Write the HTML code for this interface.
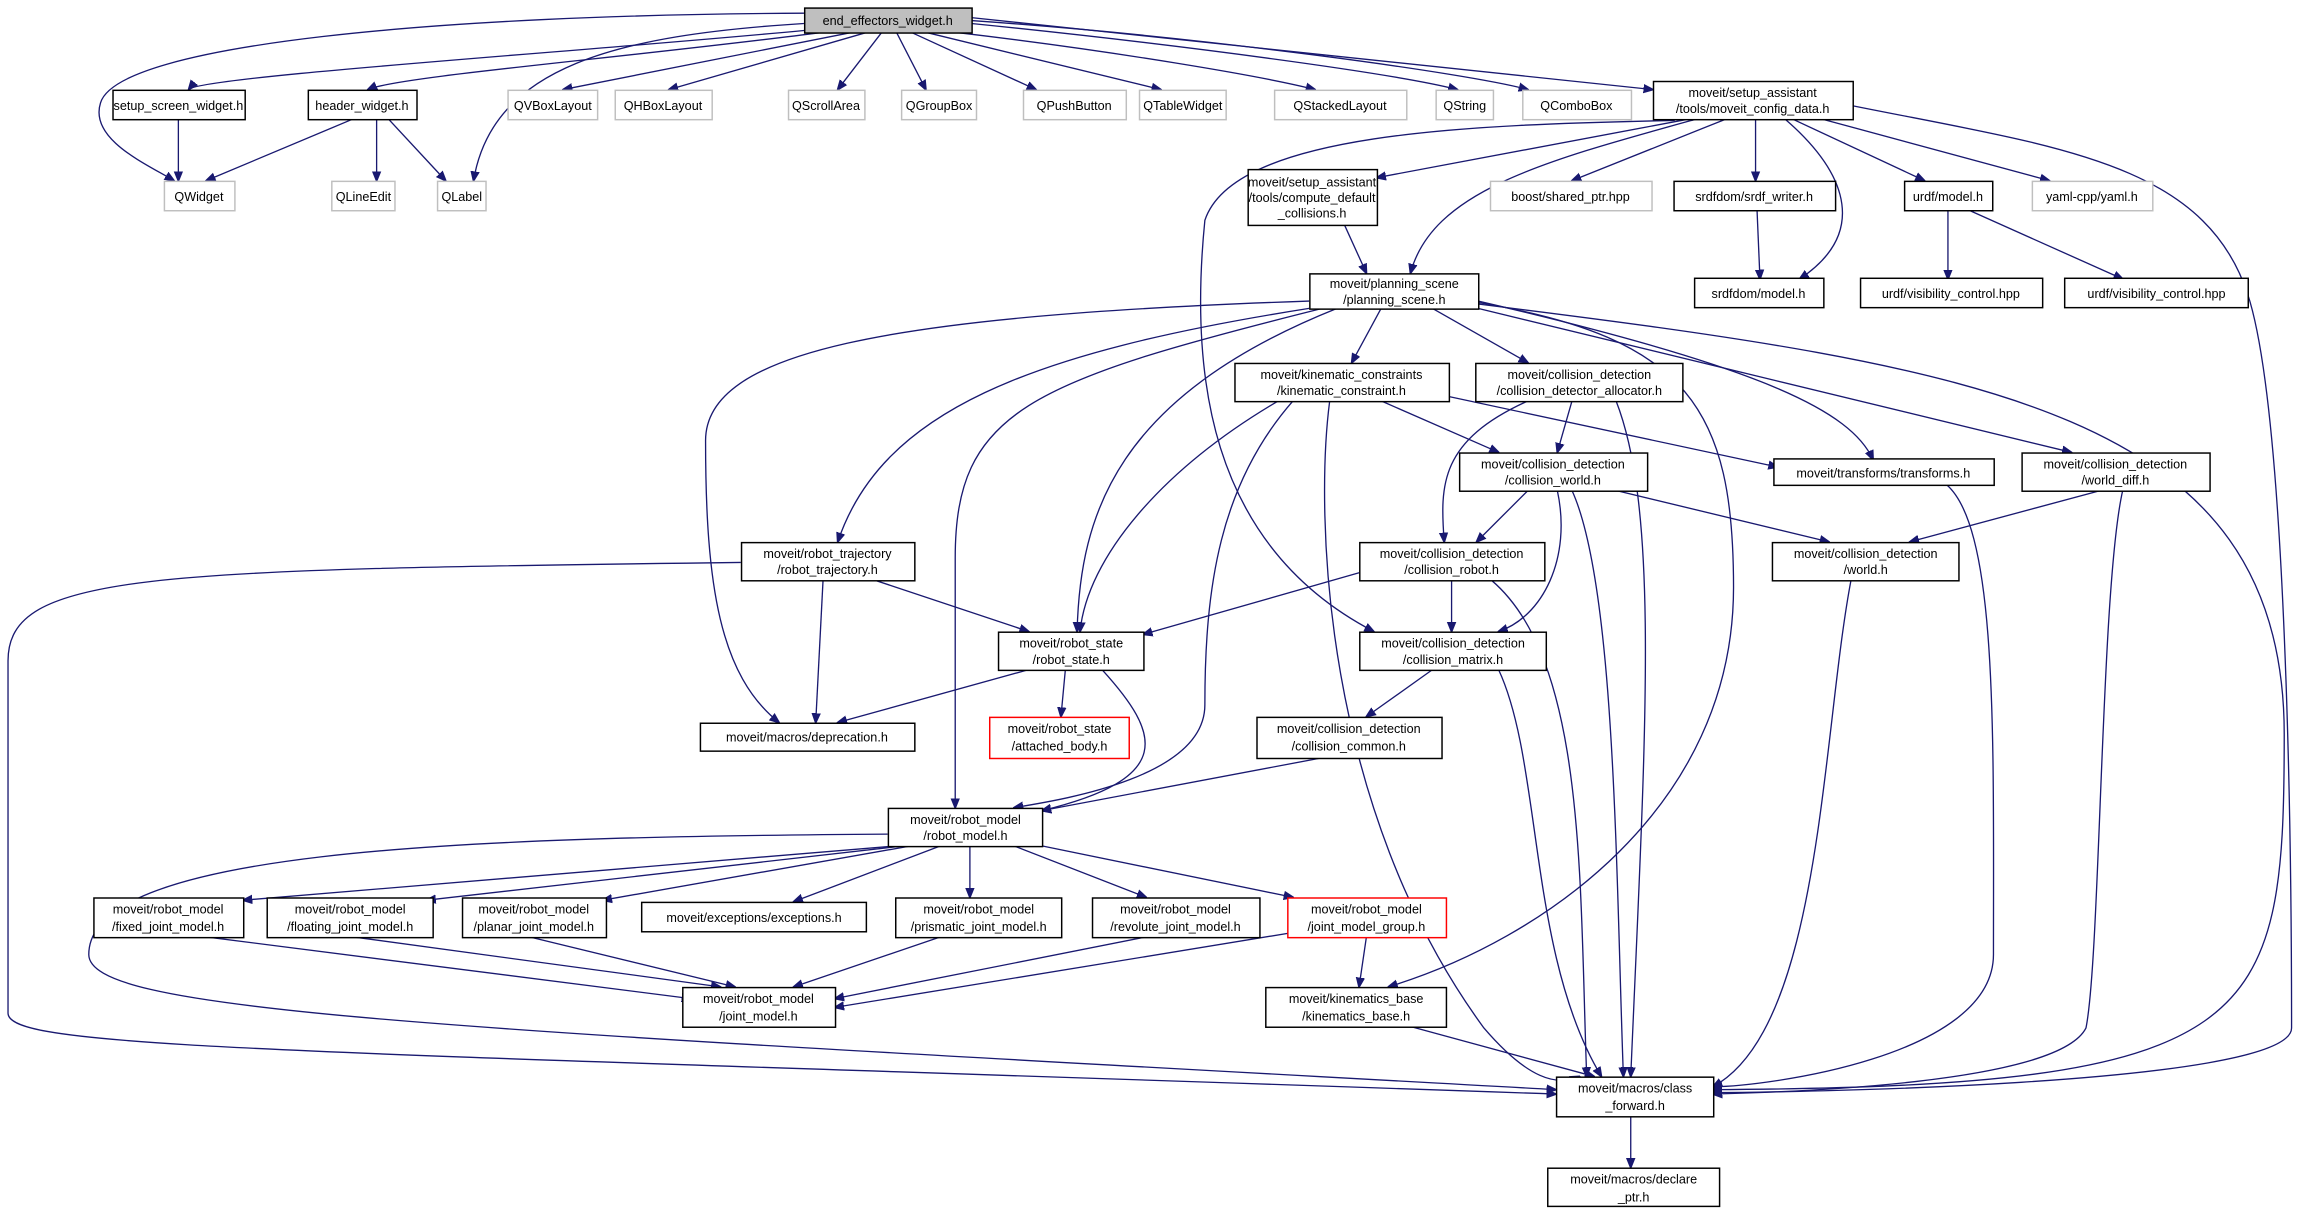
<!DOCTYPE html>
<html><head><meta charset="utf-8"><style>
html,body{margin:0;padding:0;background:#fff;}
svg{display:block}
text{font-family:"Liberation Sans",sans-serif;font-size:8.6px;fill:#000;text-anchor:middle}
.n{fill:#fff;stroke:#000;stroke-width:1}
.g{fill:#fff;stroke:#bfbfbf;stroke-width:1}
.r{fill:#fff;stroke:#ff0000;stroke-width:1}
.e path{fill:none;stroke:#191970;stroke-width:0.9;marker-end:url(#a)}
</style></head><body>
<svg width="2304" height="1213" viewBox="0 0 1568 826" xmlns="http://www.w3.org/2000/svg">
<defs><marker id="a" viewBox="0 0 10 10" refX="9" refY="5" markerWidth="7" markerHeight="7" markerUnits="userSpaceOnUse" orient="auto"><path d="M0,1 L10,5 L0,9 z" fill="#191970" stroke="#191970"/></marker></defs>
<g class="e">
<path d="M547,9 C300,10 80,30 68,70 C60,95 100,112 118,123"/>
<path d="M555,20 C400,35 135,52 128,61"/>
<path d="M560,22 C420,40 270,52 250,61"/>
<path d="M547,16 C420,24 335,45 322,123"/>
<path d="M580,22 L383,61"/>
<path d="M590,22 L455,61"/>
<path d="M600,22 L570,61"/>
<path d="M610,22 L630,61"/>
<path d="M620,22 L705,61"/>
<path d="M630,22 L790,61"/>
<path d="M650,22 C760,35 860,52 895,61"/>
<path d="M661,16 C800,30 950,50 992,61"/>
<path d="M661,14 C820,25 1000,50 1040,61"/>
<path d="M661,12 L1125,61"/>
<path d="M121,81 L121,123"/>
<path d="M240,81 L140,123"/>
<path d="M256,81 L256,123"/>
<path d="M264,81 L303,123"/>
<path d="M1150,81 L937,121"/>
<path d="M1155,81 C1050,110 975,130 960,186"/>
<path d="M1140,82 C1000,85 840,90 820,150 C810,250 820,370 935,430"/>
<path d="M1175,81 L1070,123"/>
<path d="M1195,81 L1195,123"/>
<path d="M1215,81 C1260,120 1270,160 1225,190"/>
<path d="M1220,81 L1310,123"/>
<path d="M1240,81 L1395,123"/>
<path d="M1261,72 C1400,100 1500,110 1530,200 C1560,290 1560,650 1560,700 C1560,740 1200,744 1166,744"/>
<path d="M915,153 L930,186"/>
<path d="M1196,143 L1198,190"/>
<path d="M1326,143 L1326,190"/>
<path d="M1340,143 L1445,190"/>
<path d="M891,205 C600,215 480,240 480,300 C480,400 490,460 530,492"/>
<path d="M891,210 C700,240 600,280 570,369"/>
<path d="M900,210 C700,260 650,280 650,380 L650,550"/>
<path d="M910,210 C760,270 735,350 733,430"/>
<path d="M940,210 L920,247"/>
<path d="M975,210 L1040,247"/>
<path d="M1006,205 C1200,250 1260,280 1275,313"/>
<path d="M1006,210 L1410,308"/>
<path d="M1006,206 C1150,230 1180,280 1180,400 C1180,550 1050,640 945,672"/>
<path d="M1006,207 C1350,250 1555,280 1555,500 C1555,700 1540,740 1166,742"/>
<path d="M870,273 C790,320 740,380 735,430"/>
<path d="M880,273 C830,330 820,400 820,480 C820,530 720,545 690,550"/>
<path d="M940,273 L1020,308"/>
<path d="M986,270 L1210,318"/>
<path d="M905,273 C895,350 900,550 1010,700 C1040,735 1060,740 1075,733"/>
<path d="M1070,273 L1060,308"/>
<path d="M1040,273 C980,300 980,330 983,369"/>
<path d="M1100,273 C1130,350 1120,500 1110,733"/>
<path d="M1040,334 L1005,369"/>
<path d="M1060,334 C1070,380 1050,420 1020,430"/>
<path d="M1100,334 L1245,369"/>
<path d="M1070,334 C1100,400 1100,600 1105,733"/>
<path d="M1325,330 C1360,360 1357,500 1357,650 C1357,720 1200,740 1166,740"/>
<path d="M1430,334 L1300,369"/>
<path d="M1445,334 C1430,400 1430,650 1420,700 C1400,740 1200,744 1166,745"/>
<path d="M595,395 L700,430"/>
<path d="M560,395 L555,492"/>
<path d="M504,383 C100,388 5,390 5,450 L5,690 C5,715 200,715 1059,745"/>
<path d="M925,390 L778,432"/>
<path d="M988,395 L988,430"/>
<path d="M1015,395 C1080,450 1075,600 1080,733"/>
<path d="M1260,395 C1240,500 1240,700 1166,740"/>
<path d="M975,456 L930,488"/>
<path d="M1020,456 C1050,520 1040,650 1090,733"/>
<path d="M700,456 L570,492"/>
<path d="M725,456 L722,488"/>
<path d="M750,456 C790,500 800,530 709,552"/>
<path d="M900,516 L709,552"/>
<path d="M610,576 L165,613"/>
<path d="M615,576 L290,613"/>
<path d="M620,576 L410,613"/>
<path d="M640,576 L540,614"/>
<path d="M660,576 L660,611"/>
<path d="M690,576 L780,611"/>
<path d="M709,576 L880,611"/>
<path d="M604,568 C300,570 60,580 60,650 C60,690 300,700 1059,742"/>
<path d="M140,638 L470,680"/>
<path d="M240,638 L490,672"/>
<path d="M360,638 L500,672"/>
<path d="M640,638 L540,672"/>
<path d="M780,638 L568,680"/>
<path d="M880,635 L568,686"/>
<path d="M930,638 L925,672"/>
<path d="M960,699 L1085,733"/>
<path d="M1110,760 L1110,795"/>
</g>
<g>
<rect x="547.5" y="5.5" width="114" height="17" fill="#bfbfbf" stroke="#000"/><text x="604" y="17">end_effectors_widget.h</text>
<rect class="n" x="76.5" y="61.5" width="90" height="20"/><text x="121" y="75">setup_screen_widget.h</text>
<rect class="n" x="209.5" y="61.5" width="74" height="20"/><text x="246" y="75">header_widget.h</text>
<rect class="g" x="111.5" y="123.5" width="48" height="20"/><text x="135" y="137">QWidget</text>
<rect class="g" x="225.5" y="123.5" width="43" height="20"/><text x="247" y="137">QLineEdit</text>
<rect class="g" x="297.5" y="123.5" width="33" height="20"/><text x="314" y="137">QLabel</text>
<rect class="g" x="345.5" y="61.5" width="61" height="20"/><text x="376" y="75">QVBoxLayout</text>
<rect class="g" x="418.5" y="61.5" width="66" height="20"/><text x="451" y="75">QHBoxLayout</text>
<rect class="g" x="536.5" y="61.5" width="52" height="20"/><text x="562" y="75">QScrollArea</text>
<rect class="g" x="613.5" y="61.5" width="51" height="20"/><text x="639" y="75">QGroupBox</text>
<rect class="g" x="696.5" y="61.5" width="70" height="20"/><text x="731" y="75">QPushButton</text>
<rect class="g" x="775.5" y="61.5" width="59" height="20"/><text x="805" y="75">QTableWidget</text>
<rect class="g" x="867.5" y="61.5" width="90" height="20"/><text x="912" y="75">QStackedLayout</text>
<rect class="g" x="977.5" y="61.5" width="39" height="20"/><text x="997" y="75">QString</text>
<rect class="g" x="1036.5" y="61.5" width="74" height="20"/><text x="1073" y="75">QComboBox</text>
<rect class="n" x="1125.5" y="55.5" width="136" height="26"/><text x="1193" y="66">moveit/setup_assistant</text><text x="1193" y="77">/tools/moveit_config_data.h</text>
<rect class="n" x="849.5" y="115.5" width="88" height="38"/><text x="893" y="127">moveit/setup_assistant</text><text x="893" y="137.5">/tools/compute_default</text><text x="893" y="148">_collisions.h</text>
<rect class="g" x="1014.5" y="123.5" width="110" height="20"/><text x="1069" y="137">boost/shared_ptr.hpp</text>
<rect class="n" x="1139.5" y="123.5" width="110" height="20"/><text x="1194" y="137">srdfdom/srdf_writer.h</text>
<rect class="n" x="1296.5" y="123.5" width="60" height="20"/><text x="1326" y="137">urdf/model.h</text>
<rect class="g" x="1383.5" y="123.5" width="82" height="20"/><text x="1424" y="137">yaml-cpp/yaml.h</text>
<rect class="n" x="1153.5" y="189.5" width="88" height="20"/><text x="1197" y="203">srdfdom/model.h</text>
<rect class="n" x="1266.5" y="189.5" width="124" height="20"/><text x="1328" y="203">urdf/visibility_control.hpp</text>
<rect class="n" x="1405.5" y="189.5" width="125" height="20"/><text x="1468" y="203">urdf/visibility_control.hpp</text>
<rect class="n" x="891.5" y="186.5" width="115" height="24"/><text x="949" y="196">moveit/planning_scene</text><text x="949" y="207">/planning_scene.h</text>
<rect class="n" x="840.5" y="247.5" width="146" height="26"/><text x="913" y="258">moveit/kinematic_constraints</text><text x="913" y="269">/kinematic_constraint.h</text>
<rect class="n" x="1004.5" y="247.5" width="141" height="26"/><text x="1075" y="258">moveit/collision_detection</text><text x="1075" y="269">/collision_detector_allocator.h</text>
<rect class="n" x="993.5" y="308.5" width="128" height="26"/><text x="1057" y="319">moveit/collision_detection</text><text x="1057" y="330">/collision_world.h</text>
<rect class="n" x="1207.5" y="312.5" width="150" height="18"/><text x="1282" y="325">moveit/transforms/transforms.h</text>
<rect class="n" x="1376.5" y="308.5" width="128" height="26"/><text x="1440" y="319">moveit/collision_detection</text><text x="1440" y="330">/world_diff.h</text>
<rect class="n" x="504.5" y="369.5" width="118" height="26"/><text x="563" y="380">moveit/robot_trajectory</text><text x="563" y="391">/robot_trajectory.h</text>
<rect class="n" x="925.5" y="369.5" width="126" height="26"/><text x="988" y="380">moveit/collision_detection</text><text x="988" y="391">/collision_robot.h</text>
<rect class="n" x="1206.5" y="369.5" width="127" height="26"/><text x="1270" y="380">moveit/collision_detection</text><text x="1270" y="391">/world.h</text>
<rect class="n" x="679.5" y="430.5" width="99" height="26"/><text x="729" y="441">moveit/robot_state</text><text x="729" y="452">/robot_state.h</text>
<rect class="n" x="925.5" y="430.5" width="127" height="26"/><text x="989" y="441">moveit/collision_detection</text><text x="989" y="452">/collision_matrix.h</text>
<rect class="n" x="476.5" y="492.5" width="146" height="19"/><text x="549" y="505">moveit/macros/deprecation.h</text>
<rect class="r" x="673.5" y="488.5" width="95" height="28"/><text x="721" y="499">moveit/robot_state</text><text x="721" y="511">/attached_body.h</text>
<rect class="n" x="855.5" y="488.5" width="126" height="28"/><text x="918" y="499">moveit/collision_detection</text><text x="918" y="511">/collision_common.h</text>
<rect class="n" x="604.5" y="550.5" width="105" height="26"/><text x="657" y="561">moveit/robot_model</text><text x="657" y="572">/robot_model.h</text>
<rect class="n" x="63.5" y="611.5" width="102" height="27"/><text x="114" y="622">moveit/robot_model</text><text x="114" y="634">/fixed_joint_model.h</text>
<rect class="n" x="181.5" y="611.5" width="113" height="27"/><text x="238" y="622">moveit/robot_model</text><text x="238" y="634">/floating_joint_model.h</text>
<rect class="n" x="314.5" y="611.5" width="98" height="27"/><text x="363" y="622">moveit/robot_model</text><text x="363" y="634">/planar_joint_model.h</text>
<rect class="n" x="436.5" y="614.5" width="153" height="20"/><text x="513" y="628">moveit/exceptions/exceptions.h</text>
<rect class="n" x="609.5" y="611.5" width="113" height="27"/><text x="666" y="622">moveit/robot_model</text><text x="666" y="634">/prismatic_joint_model.h</text>
<rect class="n" x="743.5" y="611.5" width="114" height="27"/><text x="800" y="622">moveit/robot_model</text><text x="800" y="634">/revolute_joint_model.h</text>
<rect class="r" x="876.5" y="611.5" width="108" height="27"/><text x="930" y="622">moveit/robot_model</text><text x="930" y="634">/joint_model_group.h</text>
<rect class="n" x="464.5" y="672.5" width="104" height="27"/><text x="516" y="683">moveit/robot_model</text><text x="516" y="695">/joint_model.h</text>
<rect class="n" x="861.5" y="672.5" width="123" height="27"/><text x="923" y="683">moveit/kinematics_base</text><text x="923" y="695">/kinematics_base.h</text>
<rect class="n" x="1059.5" y="733.5" width="107" height="27"/><text x="1113" y="744">moveit/macros/class</text><text x="1113" y="756">_forward.h</text>
<rect class="n" x="1053.5" y="795.5" width="117" height="26"/><text x="1112" y="806">moveit/macros/declare</text><text x="1112" y="818">_ptr.h</text>
</g>
</svg>
</body></html>
